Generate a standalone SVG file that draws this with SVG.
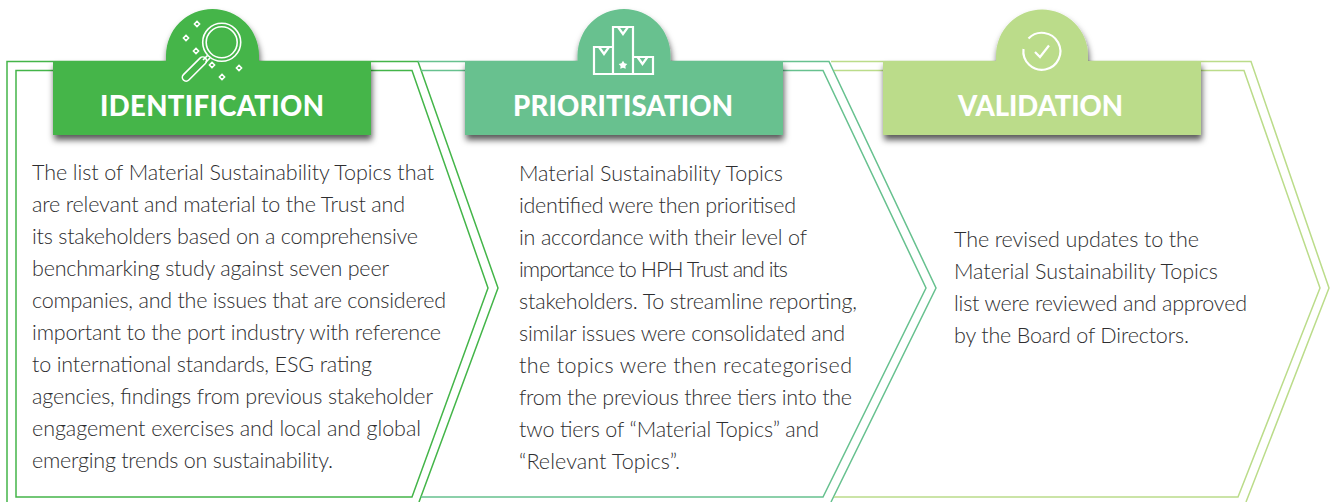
<svg xmlns="http://www.w3.org/2000/svg" width="1330" height="502" viewBox="0 0 1330 502">
<style>
.fr{fill:none;stroke-width:1.5}
.g1{stroke:#44b549}.g2{stroke:#67c18f}.g3{stroke:#bbdc8a}
.h{font-family:Lato,"Liberation Sans",sans-serif;font-weight:900;font-size:27.500px;fill:#fff}
.b{font-family:Lato,"Open Sans",sans-serif;font-weight:300;font-size:21.500px;fill:#2e2e30}
.ic{fill:none;stroke:#fff;stroke-width:2.200}
.thin{fill:none;stroke:#fff;stroke-width:1.600}
.sp{fill:none;stroke:#fff;stroke-width:1.500}
</style>
<defs>
<filter id="sh" x="-10%" y="-20%" width="120%" height="140%"><feDropShadow dx="1" dy="5" stdDeviation="3" flood-color="#000" flood-opacity="0.65"/></filter>
<path id="dm" d="M0-2.600 2.600 0 0 2.600-2.600 0Z"/>
</defs>
<g id="identification">
<path class="fr g1" d="M7 502V61.500H418L498 288 419 502"/>
<path class="fr g1" d="M16 497V70.500H412L488 288 412 497Z"/>
<path filter="url(#sh)" fill="#44b549" d="M53 61H166V55.500A46.500 46.500 0 0 1 259 55.500V61H371V135H53Z"/>
<circle class="thin" cx="221.700" cy="42.300" r="19"/>
<circle class="thin" cx="221.700" cy="42.300" r="15.500"/>
<path class="thin" d="M207.500 55.500 203 60M210 58 205.500 62.500"/>
<rect class="thin" x="-5" y="-3.800" width="31" height="7.600" rx="3.800" transform="translate(187 76.500) rotate(-45)"/>
<g class="sp"><use href="#dm" x="197" y="24"/><use href="#dm" x="186" y="38"/><use href="#dm" x="196" y="51"/><use href="#dm" x="212" y="65"/><use href="#dm" x="239" y="68"/><use href="#dm" x="222" y="77"/></g>
<text class="h" x="100" y="115.500" textLength="224">IDENTIFICATION</text>
<g class="b">
<text x="32" y="180" textLength="402">The list of Material Sustainability Topics that</text>
<text x="32" y="212" textLength="373">are relevant and material to the Trust and</text>
<text x="32" y="244" textLength="386">its stakeholders based on a comprehensive</text>
<text x="32" y="276" textLength="357">benchmarking study against seven peer</text>
<text x="32" y="308" textLength="414">companies, and the issues that are considered</text>
<text x="32" y="340" textLength="409">important to the port industry with reference</text>
<text x="32" y="372" textLength="340">to international standards, ESG rating</text>
<text x="32" y="404" textLength="401">agencies, findings from previous stakeholder</text>
<text x="32" y="436" textLength="389">engagement exercises and local and global</text>
<text x="32" y="468" textLength="301">emerging trends on sustainability.</text>
</g>
</g>
<g id="prioritisation">
<path class="fr g2" d="M418 61.500H829L936 288 831 502"/>
<path class="fr g2" d="M421 70.500H823L926 288 823 497H421"/>
<path filter="url(#sh)" fill="#67c18f" d="M465 61H577.500V55.500A46.500 46.500 0 0 1 670.500 55.500V61H783V135H465Z"/>
<path class="ic" d="M594 74V47H613V74ZM613 74V27H633V74ZM633 74V57H653V74ZM599 47 604 54 609 47M618 27 623 34 628 27M637.500 57 642.500 64 647.500 57"/>
<path fill="#fff" d="M623 60.800 624.500 63.300 627.300 63.900 625.400 66 625.700 68.800 623 67.700 620.300 68.800 620.600 66 618.700 63.900 621.500 63.300Z"/>
<text class="h" x="513" y="115.500" textLength="220">PRIORITISATION</text>
<g class="b">
<text x="519" y="181" textLength="264">Material Sustainability Topics</text>
<text x="519" y="213" textLength="277">identified were then prioritised</text>
<text x="519" y="245" textLength="288">in accordance with their level of</text>
<text x="519" y="277" textLength="269">importance to HPH Trust and its</text>
<text x="519" y="309" textLength="338">stakeholders. To streamline reporting,</text>
<text x="519" y="341" textLength="326">similar issues were consolidated and</text>
<text x="519" y="373" textLength="333">the topics were then recategorised</text>
<text x="519" y="405" textLength="333">from the previous three tiers into the</text>
<text x="519" y="437" textLength="300">two tiers of “Material Topics” and</text>
<text x="519" y="469" textLength="161">“Relevant Topics”.</text>
</g>
</g>
<g id="validation">
<path class="fr g3" d="M831 61.500H1251L1329 288 1246 502"/>
<path class="fr g3" d="M834 70.500H1244L1320 288 1238 497H834"/>
<path filter="url(#sh)" fill="#bbdc8a" d="M883 61H996V55.500A46 46 0 0 1 1088 55.500V61H1201V135H883Z"/>
<path class="ic" d="M1028.500 38.500A18.500 18.500 0 1 1 1023.500 49M1035 52 1040 57 1049 45.500"/>
<text class="h" x="958" y="115.500" textLength="165">VALIDATION</text>
<g class="b">
<text x="954" y="247" textLength="245">The revised updates to the</text>
<text x="954" y="279" textLength="264">Material Sustainability Topics</text>
<text x="954" y="311" textLength="293">list were reviewed and approved</text>
<text x="954" y="343" textLength="235">by the Board of Directors.</text>
</g>
</g>
<g id="connectors"></g>
</svg>
